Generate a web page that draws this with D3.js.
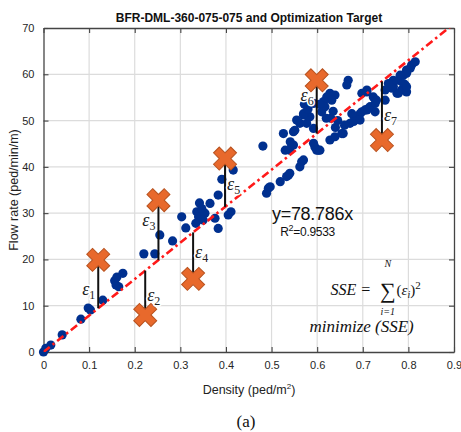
<!DOCTYPE html>
<html><head><meta charset="utf-8">
<script src="https://cdn.jsdelivr.net/npm/d3@7"></script>
<style>body{margin:0;background:#fff;} svg{display:block;}</style>
</head><body>
<svg id="c" width="461" height="432"></svg>
<script>
const title = "BFR-DML-360-075-075 and Optimization Target";
const xTicks = [0,0.1,0.2,0.3,0.4,0.5,0.6,0.7,0.8,0.9];
const yTicks = [0,10,20,30,40,50,60,70];
const slope = 78.786;
const r2 = "0.9533";
const densities = [0,0.005,0.016,0.041,0.082,0.098,0.103,0.13,0.156,0.159,0.165,0.174,0.161,0.22,0.244,0.255,0.283,0.303,0.312,0.336,0.342,0.34,0.347,0.354,0.365,0.334,0.35,0.376,0.383,0.383,0.391,0.416,0.405,0.411,0.489,0.493,0.519,0.481,0.537,0.566,0.562,0.599,0.54,0.544,0.497,
0.526,0.548,0.541,0.548,0.592,0.603,0.628,0.639,0.657,0.533,0.562,0.577,0.584,0.57,0.592,0.672,0.683,0.694,0.676,0.705,
0.668,0.665,0.628,0.639,0.621,0.632,0.614,0.617,0.605,0.61,0.592,0.577,0.57,0.555,0.551,0.53,0.57,0.54,0.654,0.595,0.606,
0.68,0.698,0.709,0.716,0.698,0.709,0.723,0.73,0.749,0.767,0.76,0.778,0.789,0.796,0.807,0.815,0.793,0.785,0.796,0.775,
0.804,0.796,0.782,0.767,0.756,0.764,0.789,0.796,0.778,0.749,0.709,0.727,0.727,0.712,0.694,
0.63,0.645,0.64,0.62,0.66,0.635,0.572,0.58];
const flows = [0,0.8,1.5,3.7,7.1,9.5,9.1,11.2,15.4,14.5,14.1,17.0,16.2,21.2,21.2,25.3,24.0,29.2,26.8,30.3,32.2,29.2,31.0,30.0,32.1,27.8,28.5,28.9,26.7,33.9,37.3,39.3,29.6,30.3,34.3,35.4,36.8,44.5,38.2,41.1,40.0,43.6,43.6,44.7,35.7,
47.2,47.6,45.4,44.7,45.1,43.6,45.8,46.5,47.2,37.9,49.4,49.4,50.8,51.5,48.3,49.4,50.5,51.5,51.5,52.3,
58.7,57.7,55.9,55.5,55.1,54.4,54.1,53.0,53.5,51.9,53.7,51.9,51.2,50.1,47.9,43.6,41.5,38.6,47.2,44.3,43.6,
49.8,51.9,52.3,53.0,55.9,56.6,55.1,54.4,54.4,57.3,58.0,58.7,59.8,60.9,62.0,62.7,57.7,56.6,56.2,55.9,
61.3,60.2,59.8,58.7,58.0,57.0,58.0,57.3,55.9,56.6,56.2,53.7,51.9,52.6,50.1,
50.5,50.0,48.5,50.5,49.0,52.0,53.5,52.5];
const targetX = [0.12,0.223,0.252,0.328,0.398,0.599,0.742];
const targetY = [19.9,8.0,32.8,15.8,41.8,58.7,45.8];
const errLabels = ["1","2","3","4","5","6","7"];
const errLabelY = [12.3,11.0,27.2,20.3,35.0,54.3,49.9];
const errLabelSide = [-1,1,-1,1,1,-1,1];

const svg = d3.select("#c");
const L=43.5,R=454,T=28,B=352;
const x = d3.scaleLinear().domain([0,0.9]).range([L,R]);
const y = d3.scaleLinear().domain([0,70]).range([B,T]);
const sans = "'Liberation Sans', Arial, sans-serif";
const serif = "'Liberation Serif', 'DejaVu Serif', serif";

svg.append("defs").append("clipPath").attr("id","clip")
  .append("rect").attr("x",L).attr("y",T).attr("width",R-L).attr("height",B-T);

// grid
const g = svg.append("g");
g.selectAll(".gx").data(xTicks.slice(1,-1)).join("line")
  .attr("x1",d=>x(d)).attr("x2",d=>x(d)).attr("y1",T).attr("y2",B)
  .attr("stroke","#dcdcdc").attr("stroke-width",1.2);
g.selectAll(".gy").data(yTicks.slice(1,-1)).join("line")
  .attr("y1",d=>y(d)).attr("y2",d=>y(d)).attr("x1",L).attr("x2",R)
  .attr("stroke","#dcdcdc").attr("stroke-width",1.2);

// axes
function styleAxis(sel){
  sel.select(".domain").attr("stroke","#444").attr("stroke-width",1.3);
  sel.selectAll(".tick line").attr("stroke","#444").attr("stroke-width",1.1);
  sel.selectAll("text").attr("font-family",sans).attr("font-size",11).attr("fill","#262626");
}
const fmtX = d=> d===0?"0":d3.format(".1f")(d);
svg.append("g").attr("transform",`translate(0,${B})`)
  .call(d3.axisBottom(x).tickValues(xTicks).tickFormat(fmtX).tickSizeInner(-5).tickSizeOuter(0).tickPadding(9))
  .call(styleAxis);
svg.append("g").attr("transform",`translate(0,${T})`)
  .call(d3.axisTop(x).tickValues(xTicks).tickFormat("").tickSizeInner(-5).tickSizeOuter(0))
  .call(styleAxis);
svg.append("g").attr("transform",`translate(${L},0)`)
  .call(d3.axisLeft(y).tickValues(yTicks).tickSizeInner(-5).tickSizeOuter(0).tickPadding(9))
  .call(styleAxis);
svg.append("g").attr("transform",`translate(${R},0)`)
  .call(d3.axisRight(y).tickValues(yTicks).tickFormat("").tickSizeInner(-5).tickSizeOuter(0))
  .call(styleAxis);

// points
const pts = densities.map((d,i)=>({x:d,y:flows[i]}));
svg.append("g").selectAll("circle").data(pts).join("circle")
  .attr("cx",d=>x(d.x)).attr("cy",d=>y(d.y)).attr("r",4.6)
  .attr("fill","#00308f");

// regression line
svg.append("path").attr("clip-path","url(#clip)")
  .datum([0,0.9]).attr("d",d3.line().x(d=>x(d)).y(d=>y(slope*d)))
  .attr("stroke","#ff1a1a").attr("stroke-width",2.6).attr("fill","none")
  .attr("stroke-dasharray","8,3.5,2.5,3.5");

// error lines
const tg = targetX.map((d,i)=>({x:d,y:targetY[i],lab:errLabels[i],ly:errLabelY[i],side:errLabelSide[i]}));
svg.append("g").selectAll("line").data(tg).join("line")
  .attr("x1",d=>x(d.x)).attr("x2",d=>x(d.x))
  .attr("y1",d=>y(d.y)).attr("y2",d=>y(slope*d.x))
  .attr("stroke","#111").attr("stroke-width",2);

// targets
svg.append("g").selectAll("path").data(tg).join("path")
  .attr("d",d3.symbol().type(d3.symbolCross).size(330))
  .attr("transform",d=>`translate(${x(d.x)},${y(d.y)}) rotate(45)`)
  .attr("fill","#e8692c").attr("stroke","#b8521f").attr("stroke-width",1);

// epsilon labels (on top, white halo)
const el = svg.append("g").selectAll("text").data(tg).join("text")
  .attr("x",d=>x(d.x)+(d.side<0?-3:2))
  .attr("y",d=>y(d.ly))
  .attr("text-anchor",d=>d.side<0?"end":"start")
  .attr("font-family",serif).attr("font-style","italic").attr("font-size",18).attr("fill","#222")
  .attr("stroke","#fff").attr("stroke-width",3).attr("paint-order","stroke").attr("stroke-linejoin","round");
el.append("tspan").text("ε");
el.append("tspan").attr("font-size",12).attr("font-style","normal").attr("dy",4).text(d=>d.lab);

// equation
svg.append("text").attr("x",x(0.501)).attr("y",y(28.5))
  .attr("font-family",sans).attr("font-size",18).attr("fill","#111").attr("letter-spacing",-0.3).text(`y=${slope}x`);
const rt = svg.append("text").attr("x",x(0.519)).attr("y",y(25.1))
  .attr("font-family",sans).attr("font-size",12).attr("fill","#111").attr("letter-spacing",-0.3);
rt.append("tspan").text("R");
rt.append("tspan").attr("font-size",9).attr("dy",-5).text("2");
rt.append("tspan").attr("dy",5).text("="+r2);

// SSE formula
const fs = svg.append("g").attr("font-family",serif).attr("font-style","italic").attr("fill","#111");
fs.append("text").attr("x",x(0.629)).attr("y",y(12.3)).attr("font-size",16).text("SSE =");
fs.append("text").attr("x",x(0.755)).attr("y",y(11.6)).attr("font-size",22).attr("font-style","normal")
  .attr("text-anchor","middle").text("∑");
fs.append("text").attr("x",x(0.755)).attr("y",y(18.4)).attr("font-size",10).attr("text-anchor","middle").text("N");
fs.append("text").attr("x",x(0.755)).attr("y",y(7.9)).attr("font-size",10).attr("text-anchor","middle").text("i=1");
const fe = fs.append("text").attr("x",x(0.774)).attr("y",y(12.3)).attr("font-size",15);
fe.append("tspan").attr("font-style","normal").text("(");
fe.append("tspan").text("ε");
fe.append("tspan").attr("font-size",10).attr("dy",3).text("i");
fe.append("tspan").attr("font-style","normal").attr("dy",-3).text(")");
fe.append("tspan").attr("font-style","normal").attr("font-size",11).attr("dy",-6).text("2");
fs.append("text").attr("x",x(0.583)).attr("y",y(4.3)).attr("font-size",17).text("minimize (SSE)");

// titles
svg.append("text").attr("x",249).attr("y",22).attr("text-anchor","middle")
  .attr("font-family",sans).attr("font-weight","bold").attr("font-size",12).attr("fill","#111").text(title);
svg.append("text").attr("transform",`translate(18,${(T+B)/2}) rotate(-90)`).attr("text-anchor","middle")
  .attr("font-family",sans).attr("font-size",12.5).attr("fill","#222").text("Flow rate (ped/min/m)");
const xl = svg.append("text").attr("x",249).attr("y",394).attr("text-anchor","middle")
  .attr("font-family",sans).attr("font-size",12.5).attr("fill","#222");
xl.append("tspan").text("Density (ped/m");
xl.append("tspan").attr("font-size",8).attr("dy",-5).text("2");
xl.append("tspan").attr("dy",5).text(")");
svg.append("text").attr("x",246).attr("y",427).attr("text-anchor","middle")
  .attr("font-family",serif).attr("font-size",17).attr("fill","#111").text("(a)");
</script>
</body></html>
